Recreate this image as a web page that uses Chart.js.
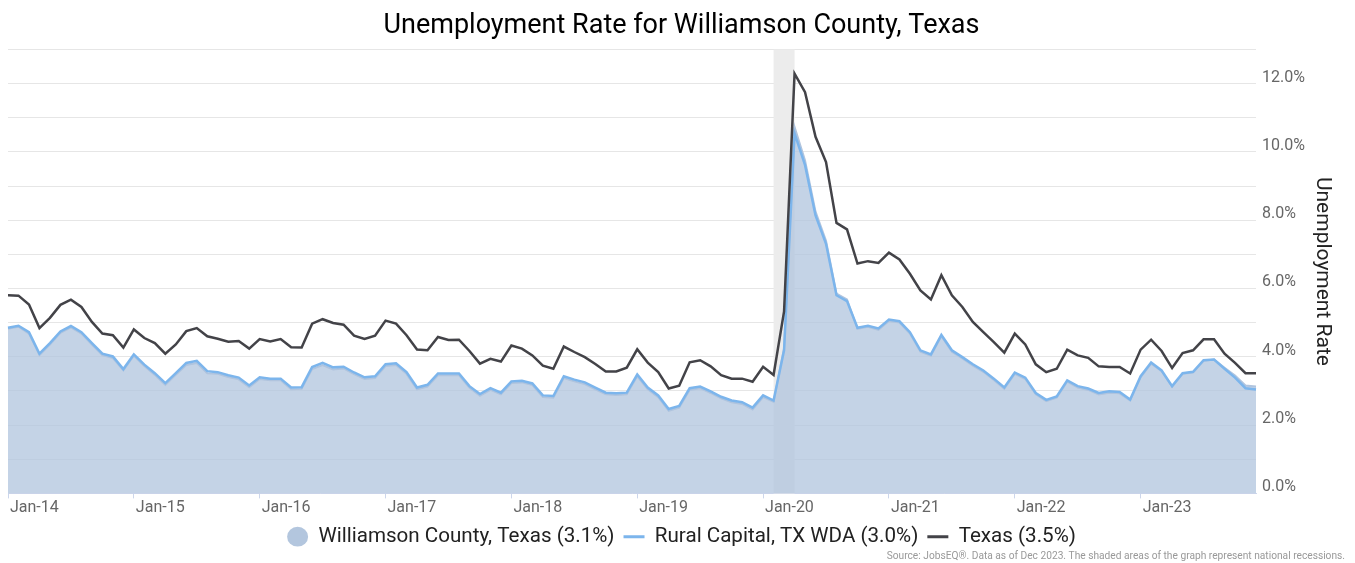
<!DOCTYPE html>
<html>
<head>
<meta charset="utf-8">
<script src="https://cdn.jsdelivr.net/npm/chart.js@4.4.1/dist/chart.umd.min.js"></script>
<style>
  html, body { margin: 0; padding: 0; background: #fff; }
  #wrap { width: 1355px; height: 563px; }
</style>
</head>
<body>
<div id="wrap"><canvas id="myChart" width="1355" height="563"></canvas></div>
<script>
const years = ['14','15','16','17','18','19','20','21','22','23'];
const monthNames = ['Jan','Feb','Mar','Apr','May','Jun','Jul','Aug','Sep','Oct','Nov','Dec'];

// Williamson County, Texas
const williamson = [
  4.82, 4.88, 4.68, 4.05, 4.36, 4.70, 4.86, 4.68, 4.36, 4.05, 3.96, 3.60,
  4.03, 3.73, 3.47, 3.18, 3.47, 3.76, 3.82, 3.52, 3.50, 3.41, 3.34, 3.11,
  3.35, 3.31, 3.31, 3.05, 3.06, 3.64, 3.76, 3.63, 3.66, 3.49, 3.35, 3.38,
  3.73, 3.76, 3.50, 3.05, 3.13, 3.46, 3.46, 3.46, 3.09, 2.86, 3.03, 2.90,
  3.23, 3.25, 3.17, 2.82, 2.80, 3.38, 3.28, 3.20, 3.05, 2.90, 2.88, 2.90,
  3.43, 3.05, 2.82, 2.42, 2.51, 3.03, 3.08, 2.94, 2.78, 2.67, 2.62, 2.46,
  2.82, 2.68, 4.25, 10.73, 9.75, 8.25, 7.40, 5.85, 5.68, 4.82, 4.88, 4.79,
  5.05, 5.00, 4.68, 4.15, 4.03, 4.60, 4.15, 3.95, 3.74, 3.56, 3.32, 3.06,
  3.50, 3.35, 2.90, 2.70, 2.80, 3.27, 3.10, 3.03, 2.90, 2.95, 2.93, 2.72,
  3.40, 3.80, 3.58, 3.12, 3.50, 3.54, 3.88, 3.92, 3.68, 3.45, 3.16, 3.13
];

// Rural Capital, TX WDA
const ruralCapital = [
  4.85, 4.91, 4.72, 4.09, 4.40, 4.74, 4.90, 4.72, 4.40, 4.09, 4.01, 3.64,
  4.07, 3.77, 3.52, 3.23, 3.52, 3.82, 3.88, 3.58, 3.55, 3.46, 3.39, 3.16,
  3.40, 3.36, 3.36, 3.10, 3.11, 3.70, 3.82, 3.69, 3.71, 3.54, 3.40, 3.43,
  3.78, 3.81, 3.55, 3.10, 3.18, 3.51, 3.51, 3.51, 3.14, 2.91, 3.08, 2.95,
  3.28, 3.30, 3.22, 2.87, 2.85, 3.43, 3.33, 3.25, 3.10, 2.95, 2.93, 2.95,
  3.48, 3.10, 2.87, 2.47, 2.56, 3.08, 3.13, 2.99, 2.83, 2.72, 2.67, 2.51,
  2.87, 2.72, 4.19, 10.54, 9.61, 8.14, 7.31, 5.80, 5.63, 4.85, 4.91, 4.83,
  5.09, 5.04, 4.72, 4.19, 4.07, 4.64, 4.19, 3.99, 3.78, 3.60, 3.36, 3.10,
  3.54, 3.39, 2.94, 2.74, 2.84, 3.31, 3.14, 3.07, 2.94, 2.99, 2.97, 2.75,
  3.43, 3.83, 3.60, 3.14, 3.52, 3.56, 3.90, 3.92, 3.65, 3.39, 3.08, 3.04
];

// Texas
const texas = [
  5.80, 5.79, 5.53, 4.84, 5.14, 5.52, 5.67, 5.46, 5.02, 4.68, 4.63, 4.27,
  4.80, 4.55, 4.40, 4.09, 4.36, 4.75, 4.84, 4.60, 4.53, 4.44, 4.46, 4.24,
  4.52, 4.45, 4.52, 4.28, 4.27, 4.97, 5.10, 4.99, 4.94, 4.62, 4.52, 4.62,
  5.06, 4.97, 4.63, 4.21, 4.19, 4.58, 4.49, 4.50, 4.17, 3.80, 3.94, 3.86,
  4.33, 4.24, 4.04, 3.74, 3.65, 4.30, 4.14, 3.99, 3.79, 3.57, 3.57, 3.68,
  4.22, 3.83, 3.55, 3.07, 3.15, 3.84, 3.90, 3.72, 3.46, 3.36, 3.36, 3.27,
  3.71, 3.47, 5.33, 12.29, 11.75, 10.44, 9.70, 7.92, 7.73, 6.73, 6.80, 6.75,
  7.05, 6.85, 6.43, 5.94, 5.68, 6.39, 5.80, 5.46, 5.02, 4.72, 4.43, 4.12,
  4.68, 4.36, 3.78, 3.55, 3.65, 4.21, 4.04, 3.97, 3.72, 3.70, 3.70, 3.51,
  4.21, 4.50, 4.17, 3.67, 4.11, 4.19, 4.51, 4.51, 4.09, 3.82, 3.52, 3.52
];

const seriesNames = ['Williamson County, Texas (3.1%)', 'Rural Capital, TX WDA (3.0%)', 'Texas (3.5%)'];
const recession = ['Feb-20', 'Apr-20'];
const sourceNote = 'Source: JobsEQ®. Data as of Dec 2023. The shaded areas of the graph represent national recessions.';

let labels = [];
years.forEach(y => monthNames.forEach(m => labels.push(m + '-' + y)));

// grey band for the recession, behind the lines
const recessionBand = {
  id: 'recessionBand',
  beforeDatasetsDraw(chart) {
    const ctx = chart.ctx, x = chart.scales.x, a = chart.chartArea;
    const x1 = x.getPixelForValue(labels.indexOf(recession[0]));
    const x2 = x.getPixelForValue(labels.indexOf(recession[1]));
    ctx.save();
    ctx.fillStyle = '#ececec';
    ctx.fillRect(x1, a.top, x2 - x1, a.bottom - a.top);
    ctx.restore();
  }
};

const sourceText = {
  id: 'sourceText',
  afterDraw(chart) {
    const ctx = chart.ctx;
    ctx.save();
    ctx.font = '10.2px Roboto';
    ctx.fillStyle = '#999';
    ctx.textAlign = 'right';
    ctx.textBaseline = 'middle';
    ctx.fillText(sourceNote, 1345, 556);
    ctx.restore();
  }
};

const ctx = document.getElementById('myChart').getContext('2d');
const myChart = new Chart(ctx, {
  type: 'line',
  data: {
    labels: labels,
    datasets: [{
      label: seriesNames[0],
      data: williamson,
      borderColor: 'rgb(176,196,222)',
      backgroundColor: 'rgba(176,196,222,0.75)',
      borderWidth: 2,
      fill: 'origin',
      order: 2
    }, {
      label: seriesNames[1],
      data: ruralCapital,
      borderColor: '#7cb5ec',
      backgroundColor: '#7cb5ec',
      borderWidth: 2.5,
      fill: false,
      order: 1
    }, {
      label: seriesNames[2],
      data: texas,
      borderColor: '#434348',
      backgroundColor: '#434348',
      borderWidth: 2.5,
      fill: false,
      order: 0
    }]
  },
  options: {
    responsive: false,
    animation: false,
    devicePixelRatio: 1,
    layout: { padding: { left: 8, right: 0, top: 0, bottom: 6 } },
    elements: {
      point: { radius: 0, hoverRadius: 0 },
      line: { tension: 0 }
    },
    scales: {
      x: {
        type: 'category',
        offset: false,
        grid: { drawOnChartArea: false, drawTicks: true, tickLength: 5, color: '#ccd6eb' },
        border: { color: '#ccd6eb' },
        ticks: {
          autoSkip: false,
          maxRotation: 0,
          align: 'start',
          padding: 0,
          labelOffset: 2,
          color: '#666',
          font: { family: 'Roboto', size: 16 },
          callback: function(v) {
            const l = this.getLabelForValue(v);
            return l.startsWith('Jan') ? l : null;
          }
        },
        afterFit(scale) { scale.height = 24; }
      },
      y: {
        position: 'right',
        min: 0,
        max: 13,
        grid: { color: '#e6e6e6', drawTicks: false },
        border: { display: false },
        ticks: {
          stepSize: 1,
          padding: 6,
          labelOffset: -6,
          color: '#666',
          font: { family: 'Roboto', size: 16 },
          callback: v => (v % 2 === 0 ? v.toFixed(1) + '%' : '')
        },
        title: {
          display: true,
          text: 'Unemployment Rate',
          color: '#222',
          font: { family: 'Roboto', size: 21 },
          padding: 20
        },
        afterFit(scale) { scale.width = 99; }
      }
    },
    plugins: {
      title: {
        display: true,
        text: 'Unemployment Rate for Williamson County, Texas',
        color: '#000',
        font: { family: 'Roboto', size: 27, weight: 'normal' },
        padding: { top: 10, bottom: 7 }
      },
      legend: {
        position: 'bottom',
        labels: {
          usePointStyle: true,
          pointStyleWidth: 21,
          boxHeight: 14,
          padding: 9,
          color: '#222',
          font: { family: 'Roboto', size: 20.6 },
          sort: (a, b) => a.datasetIndex - b.datasetIndex,
          generateLabels(chart) {
            const items = Chart.defaults.plugins.legend.labels.generateLabels(chart);
            items.forEach(it => {
              if (it.datasetIndex === 0) {
                it.pointStyle = 'circle';
                it.fillStyle = 'rgb(179,198,222)';
                it.strokeStyle = 'rgb(179,198,222)';
                it.lineWidth = 0;
              } else {
                it.pointStyle = 'line';
                it.lineWidth = 3;
              }
            });
            return items;
          }
        }
      },
      tooltip: { enabled: false }
    }
  },
  plugins: [recessionBand, sourceText]
});
</script>
</body>
</html>
